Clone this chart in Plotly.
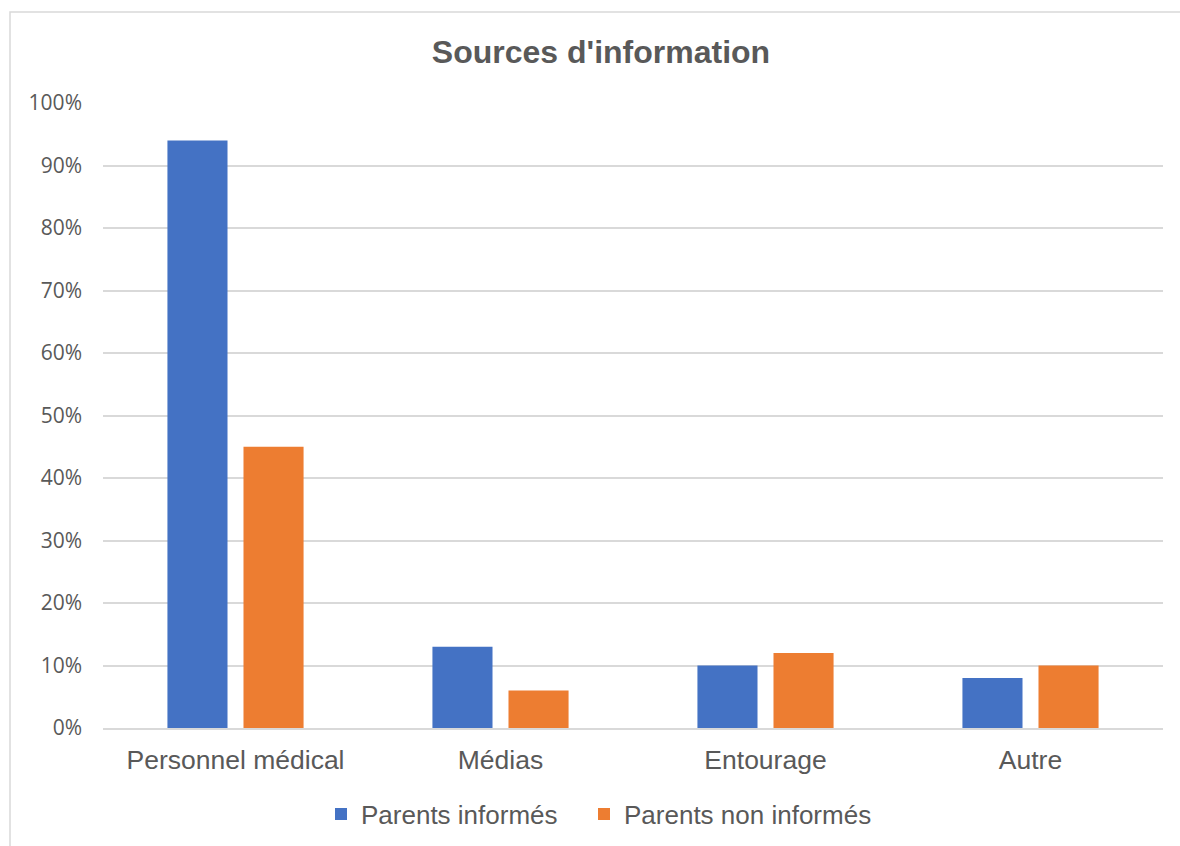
import plotly.graph_objects as go

categories = ["Personnel médical", "Médias", "Entourage", "Autre"]
parents_informes = [0.94, 0.13, 0.10, 0.08]
parents_non_informes = [0.45, 0.06, 0.12, 0.10]
tick_vals = [i / 10 for i in range(11)]
tick_text = [f"{i*10}%" for i in range(11)]

fig = go.Figure()
fig.add_trace(go.Bar(x=categories, y=parents_informes, name="Parents informés",
                     marker=dict(color="#4472C4", line=dict(width=0)), legend="legend"))
fig.add_trace(go.Bar(x=categories, y=parents_non_informes, name="Parents non informés",
                     marker=dict(color="#ED7D31", line=dict(width=0)), legend="legend2"))

L, R, T, B = 103, 17, 103, 118
W, H = 1180, 846
pw, ph = W - L - R, H - T - B

leg_y = -(814 - (H - B)) / ph
leg_common = dict(orientation="h", xanchor="left", y=leg_y, yanchor="middle",
                  font=dict(size=26, color="#595959"), itemwidth=30,
                  bgcolor="rgba(0,0,0,0)")

fig.update_layout(
    width=W, height=H,
    margin=dict(l=L, r=R, t=T, b=B, autoexpand=False),
    paper_bgcolor="white", plot_bgcolor="white",
    font=dict(family="Liberation Sans, Arial, sans-serif", color="#595959"),
    title=dict(text="<b>Sources d'information</b>", x=(601 - L) / pw, xref="paper",
               xanchor="center", y=1 - 52 / H, yanchor="middle",
               font=dict(size=32, color="#595959")),
    barmode="group", bargap=0.426, bargroupgap=0.21,
    showlegend=True,
    legend=dict(x=(321 - L) / pw, **leg_common),
    legend2=dict(x=(584 - L) / pw, **leg_common),
    xaxis=dict(showgrid=False, showline=True, linecolor="#d9d9d9", linewidth=1.5,
               tickfont=dict(size=26.5, color="#595959"), ticks="", ticklabelstandoff=7),
    yaxis=dict(range=[0, 1], tickvals=tick_vals, ticktext=tick_text,
               showgrid=True, gridcolor="#d9d9d9", gridwidth=1.5,
               zeroline=False, showline=False,
               tickfont=dict(family="Open Sans, sans-serif", size=21, color="#595959"),
               ticklabelstandoff=20),
)

# chart area border (left & top visible)
bx0 = (10 - L) / pw
by1 = 1 + (T - 12) / ph
fig.add_shape(type="rect", xref="paper", yref="paper", x0=bx0, x1=1.2, y0=-0.5, y1=by1,
              line=dict(color="#d9d9d9", width=1.5), fillcolor="rgba(0,0,0,0)", layer="below")

fig.write_html("out.html")
